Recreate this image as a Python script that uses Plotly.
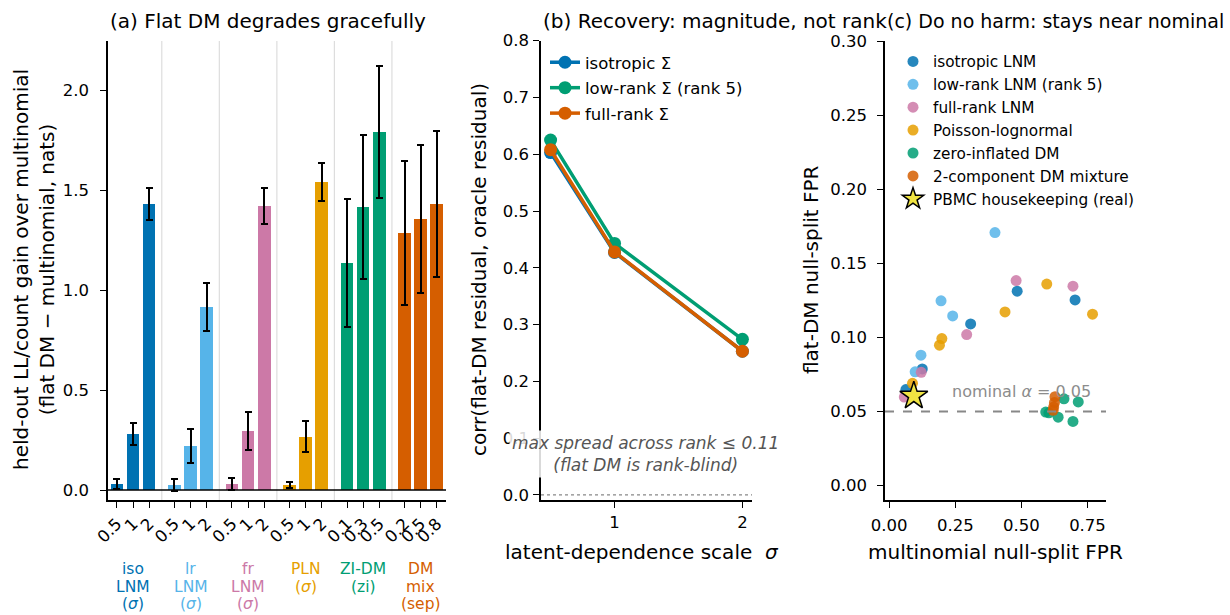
import plotly.graph_objects as go

W, H = 1230, 615
FONT = "DejaVu Sans"

# ---------------- panel (a): held-out log-likelihood gain ----------------
group_names = ["iso LNM", "lr LNM", "fr LNM", "PLN", "ZI-DM", "DM mix"]
group_label_lines = [
    ["iso", "LNM", "(<i>σ</i>)"],
    ["lr", "LNM", "(<i>σ</i>)"],
    ["fr", "LNM", "(<i>σ</i>)"],
    ["PLN", "(<i>σ</i>)"],
    ["ZI-DM", "(zi)"],
    ["DM", "mix", "(sep)"],
]
group_colors = ["#0072B2", "#56B4E9", "#CC79A7", "#E69F00", "#009E73", "#D55E00"]
level_labels = [
    ["0.5", "1", "2"],
    ["0.5", "1", "2"],
    ["0.5", "1", "2"],
    ["0.5", "1", "2"],
    ["0.1", "0.3", "0.5"],
    ["0.2", "0.5", "0.8"],
]
gain_mean = [
    [0.030, 0.280, 1.430],
    [0.025, 0.220, 0.915],
    [0.028, 0.295, 1.420],
    [0.025, 0.267, 1.540],
    [1.135, 1.415, 1.790],
    [1.285, 1.355, 1.430],
]
gain_err = [
    [0.027, 0.057, 0.078],
    [0.030, 0.083, 0.122],
    [0.030, 0.095, 0.090],
    [0.016, 0.076, 0.095],
    [0.320, 0.360, 0.330],
    [0.360, 0.370, 0.365],
]

# ---------------- panel (b): residual recovery vs sigma ----------------
sigma = [0.5, 1, 2]
corr_isotropic = [0.603, 0.427, 0.253]
corr_lowrank = [0.625, 0.443, 0.274]
corr_fullrank = [0.608, 0.428, 0.253]

# ---------------- panel (c): null-split false-positive rates ----------------
fpr_models = ["isotropic LNM", "low-rank LNM (rank 5)", "full-rank LNM",
              "Poisson-lognormal", "zero-inflated DM", "2-component DM mixture"]
fpr_colors = ["#0072B2", "#56B4E9", "#CC79A7", "#E69F00", "#009E73", "#D55E00"]
mult_fpr = [
    [0.063, 0.125, 0.308, 0.484, 0.703],
    [0.098, 0.120, 0.196, 0.240, 0.400],
    [0.057, 0.121, 0.293, 0.480, 0.695],
    [0.088, 0.190, 0.199, 0.438, 0.596, 0.769],
    [0.592, 0.604, 0.639, 0.661, 0.695, 0.715],
    [0.627, 0.625, 0.622, 0.620],
]
flatdm_fpr = [
    [0.0648, 0.0787, 0.1091, 0.1312, 0.1253],
    [0.0768, 0.0880, 0.1247, 0.1145, 0.1708],
    [0.0597, 0.0764, 0.1019, 0.1384, 0.1346],
    [0.0690, 0.0948, 0.0992, 0.1172, 0.1360, 0.1157],
    [0.0496, 0.0491, 0.0461, 0.0585, 0.0433, 0.0564],
    [0.0600, 0.0560, 0.0530, 0.0508],
]
pbmc_mult_fpr = [0.093]
pbmc_flatdm_fpr = [0.0605]
nominal_alpha = 0.05


def fx(p):
    return p / W


def fy(p):
    return 1 - p / H


fig = go.Figure()

# bars, three levels per generating model
BAR_STEP = 0.28
BAR_W = 0.22
tickvals, ticktext = [], []
for i, color in enumerate(group_colors):
    xs = [i + (j - 1) * BAR_STEP for j in range(3)]
    tickvals += xs
    ticktext += level_labels[i]
    fig.add_trace(go.Bar(
        x=xs, y=gain_mean[i], width=BAR_W, name=group_names[i],
        marker=dict(color=color, line=dict(width=0)),
        error_y=dict(type="data", array=gain_err[i], color="black",
                     thickness=2, width=3.5),
        xaxis="x", yaxis="y", showlegend=False,
    ))

# recovery curves
for name, vals, color in [("isotropic Σ", corr_isotropic, "#0072B2"),
                          ("low-rank Σ (rank 5)", corr_lowrank, "#009E73"),
                          ("full-rank Σ", corr_fullrank, "#D55E00")]:
    fig.add_trace(go.Scatter(
        x=sigma, y=vals, mode="lines+markers", name=name,
        line=dict(color=color, width=3.5),
        marker=dict(color=color, size=13),
        xaxis="x2", yaxis="y2", legend="legend", legendgroup=name,
    ))

# FPR scatter
for name, xs, ys, color in zip(fpr_models, mult_fpr, flatdm_fpr, fpr_colors):
    fig.add_trace(go.Scatter(
        x=xs, y=ys, mode="markers", name=name,
        marker=dict(color=color, size=11, opacity=0.85, line=dict(width=0)),
        xaxis="x3", yaxis="y3", legend="legend2",
    ))
fig.add_trace(go.Scatter(
    x=pbmc_mult_fpr, y=pbmc_flatdm_fpr, mode="markers",
    name="PBMC housekeeping (real)",
    marker=dict(symbol="star", color="#F0E442", size=21,
                line=dict(color="black", width=1.5)),
    xaxis="x3", yaxis="y3", legend="legend2",
))

shapes = []
# separators between model groups
for i in range(len(group_names) - 1):
    shapes.append(dict(type="line", xref="x", yref="y domain", x0=i + 0.5, x1=i + 0.5,
                       y0=0, y1=1, line=dict(color="#dddddd", width=1.2), layer="below"))
shapes.append(dict(type="line", xref="x domain", yref="y", x0=0, x1=1, y0=0, y1=0,
                   line=dict(color="black", width=1.3)))
shapes.append(dict(type="line", xref="x2 domain", yref="y2", x0=0, x1=1, y0=0, y1=0,
                   line=dict(color="#888888", width=1.2, dash="dot")))
shapes.append(dict(type="line", xref="x3 domain", yref="y3", x0=0, x1=1,
                   y0=nominal_alpha, y1=nominal_alpha,
                   line=dict(color="#888888", width=2, dash="dash")))

ann = []
TITLE_F = dict(family=FONT, size=20, color="black")
LABEL_F = dict(family=FONT, size=20, color="black")


def label(text, x, y, **kw):
    d = dict(text=text, x=fx(x), y=fy(y), xref="paper", yref="paper",
             xanchor="center", yanchor="middle", showarrow=False, font=LABEL_F)
    d.update(kw)
    ann.append(d)


label("(a) Flat DM degrades gracefully", 108, 21, xanchor="left", font=TITLE_F)
label("(b) Recovery: magnitude, not rank", 541, 21, xanchor="left", font=TITLE_F)
label("(c) Do no harm: stays near nominal", 886, 21, xanchor="left", borderpad=0,
      font=dict(family=FONT, size=19, color="black"))

label("held-out LL/count gain over multinomial<br>(flat DM − multinomial, nats)",
      34, 270, textangle=-90)
label("corr(flat-DM residual, oracle residual)", 479, 269, textangle=-90)
label("flat-DM null-split FPR", 811, 270, textangle=-90)
label("latent-dependence scale  <i>σ</i>", 642, 552)
label("multinomial null-split FPR", 995, 552)

# coloured model names under the bar groups
for i, lines in enumerate(group_label_lines):
    for k, line in enumerate(lines):
        ann.append(dict(text=line, x=i, xref="x", y=fy(569 + 17.5 * k), yref="paper",
                        xanchor="center", yanchor="middle", showarrow=False,
                        font=dict(family=FONT, size=15.5, color=group_colors[i])))

label("<i>max spread across rank ≤ 0.11</i><br><i>(flat DM is rank-blind)</i>",
      646, 453.5, bgcolor="rgba(255,255,255,0.85)", borderpad=2,
      font=dict(family=FONT, size=17, color="#555555"))
ann.append(dict(text="nominal <i>α</i> = 0.05", x=0.23, y=0.0634, xref="x3", yref="y3",
                xanchor="left", yanchor="middle", showarrow=False,
                font=dict(family=FONT, size=16, color="#8c8c8c")))

axis_style = dict(showline=True, linecolor="black", linewidth=1.6, ticks="outside",
                  ticklen=6, tickwidth=1.4, tickcolor="black", showgrid=False,
                  zeroline=False, mirror=False,
                  tickfont=dict(family=FONT, size=16.5, color="black"))

fig.update_layout(
    width=W, height=H, template="none",
    margin=dict(l=0, r=0, t=0, b=0),
    paper_bgcolor="white", plot_bgcolor="white",
    font=dict(family=FONT, color="black"),
    barmode="overlay", bargap=0,
    xaxis=dict(axis_style, domain=[fx(108), fx(446)], range=[-0.435, 5.44], anchor="y",
               tickmode="array", tickvals=tickvals, ticktext=ticktext, tickangle=-45),
    yaxis=dict(axis_style, domain=[fy(500), fy(41)], range=[-0.05, 2.245], anchor="x",
               tickmode="array", tickvals=[0, 0.5, 1.0, 1.5, 2.0], tickformat=".1f",
               ticklabelstandoff=8),
    xaxis2=dict(axis_style, domain=[fx(541), fx(752)], range=[0.425, 2.075], anchor="y2",
                tickmode="array", tickvals=[1, 2]),
    yaxis2=dict(axis_style, domain=[fy(500), fy(40.7)], range=[-0.009, 0.8], anchor="x2",
                tickmode="array", tickvals=[0, 0.1, 0.2, 0.3, 0.4, 0.5, 0.6, 0.7, 0.8],
                tickformat=".1f", ticklabelstandoff=1),
    xaxis3=dict(axis_style, domain=[fx(885), fx(1106)], range=[-0.016, 0.82], anchor="y3",
                tickmode="array", tickvals=[0, 0.25, 0.5, 0.75], tickformat=".2f",
                ticklabelstandoff=3),
    yaxis3=dict(axis_style, domain=[fy(500), fy(41.3)], range=[-0.0098, 0.30], anchor="x3",
                tickmode="array", tickvals=[0, 0.05, 0.1, 0.15, 0.2, 0.25, 0.3],
                tickformat=".2f", ticklabelstandoff=7),
    legend=dict(x=fx(545), y=fy(45), xanchor="left", yanchor="top",
                bgcolor="rgba(0,0,0,0)", borderwidth=0, tracegroupgap=1,
                font=dict(family=FONT, size=16.5, color="black")),
    legend2=dict(x=fx(893), y=fy(45), xanchor="left", yanchor="top",
                 bgcolor="rgba(0,0,0,0)", borderwidth=0,
                 font=dict(family=FONT, size=15.3, color="black")),
    shapes=shapes,
    annotations=ann,
)

fig.write_html("out.html")
